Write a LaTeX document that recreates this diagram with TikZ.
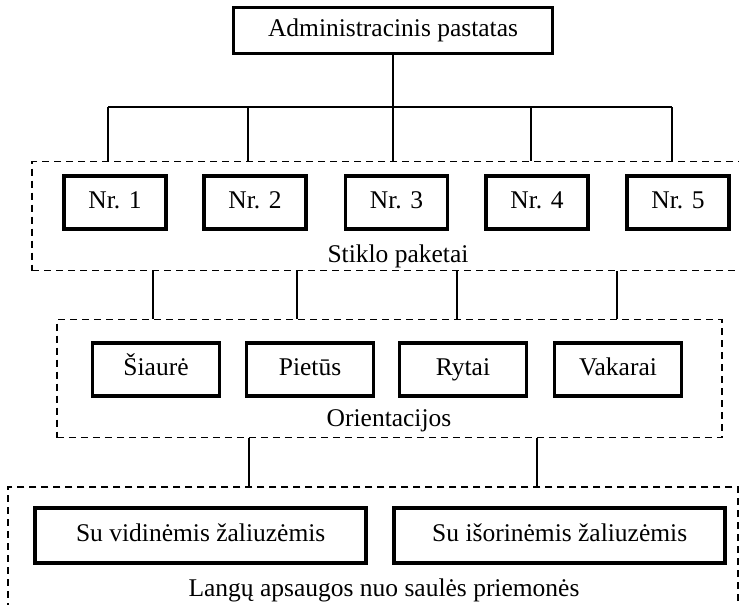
\documentclass[tikz,border=0pt]{standalone}
\usepackage{fontspec}
\setmainfont{Liberation Serif}
\usetikzlibrary{positioning}

\begin{document}
\begin{tikzpicture}[x=1pt,y=-1pt,font=\fontsize{25.5}{30}\selectfont,
  unitbox/.style={draw,line width=3.8pt,minimum height=53pt,inner sep=0pt,
    text height=17pt,text depth=5pt},
  groupbox/.style={draw,line width=1.9pt,dash pattern=on 7pt off 5pt,inner sep=0pt},
  wire/.style={line width=1.8pt}]
  \useasboundingbox (0,0) rectangle (739,605);

  % dashed groups
  \node[groupbox,minimum width=710pt,minimum height=109pt] (paketai) at (387,216) {};
  \node[groupbox,minimum width=665pt,minimum height=118pt] (orient) at (389.4,378.5) {};
  \node[groupbox,minimum width=730pt,minimum height=128pt] (apsauga) at (373.3,551) {};

  \node[unitbox,minimum width=319pt,minimum height=46pt] (pastatas) at (393,30.5)
    {Administracinis pastatas};

  \foreach \n/\x in {1/115,2/255,3/396.5,4/537,5/678}
    \node[unitbox,minimum width=102pt] (nr\n) at (\x,202.7) {Nr. \n};

  \foreach \name/\txt/\x in {siaure/Šiaurė/156,pietus/Pietūs/310,
      rytai/Rytai/463,vakarai/Vakarai/618}
    \node[unitbox,minimum width=127pt] (\name) at (\x,369.7) {\txt};

  \node[unitbox,minimum width=331pt,minimum height=55pt] (vidines) at (200.7,535.7)
    {Su vidinėmis žaliuzėmis};
  \node[unitbox,minimum width=331pt,minimum height=55pt] (isorines) at (559.7,535.7)
    {Su išorinėmis žaliuzėmis};

  \node[anchor=base] (paketailbl) at (398,262) {Stiklo paketai};
  \node[anchor=base] (orientlbl) at (389,426) {Orientacijos};
  \node[anchor=base] (apsaugalbl) at (384,596) {Langų apsaugos nuo saulės priemonės};

  % connectors
  \foreach \x [count=\i] in {108,248,393,531,672} {
    \coordinate (top\i) at (\x,107);
    \draw[wire] (top\i) -- (top\i |- paketai.north);
  }
  \draw[wire] (top1) -- (top5);
  \draw[wire] (pastatas) -- (top3);

  \foreach \x [count=\i] in {153,297,457,617} {
    \coordinate (mid\i) at (\x,0);
    \draw[wire] (mid\i |- paketai.south) -- (mid\i |- orient.north);
  }
  \foreach \x [count=\i] in {249,537} {
    \coordinate (low\i) at (\x,0);
    \draw[wire] (low\i |- orient.south) -- (low\i |- apsauga.north);
  }
\end{tikzpicture}
\end{document}
